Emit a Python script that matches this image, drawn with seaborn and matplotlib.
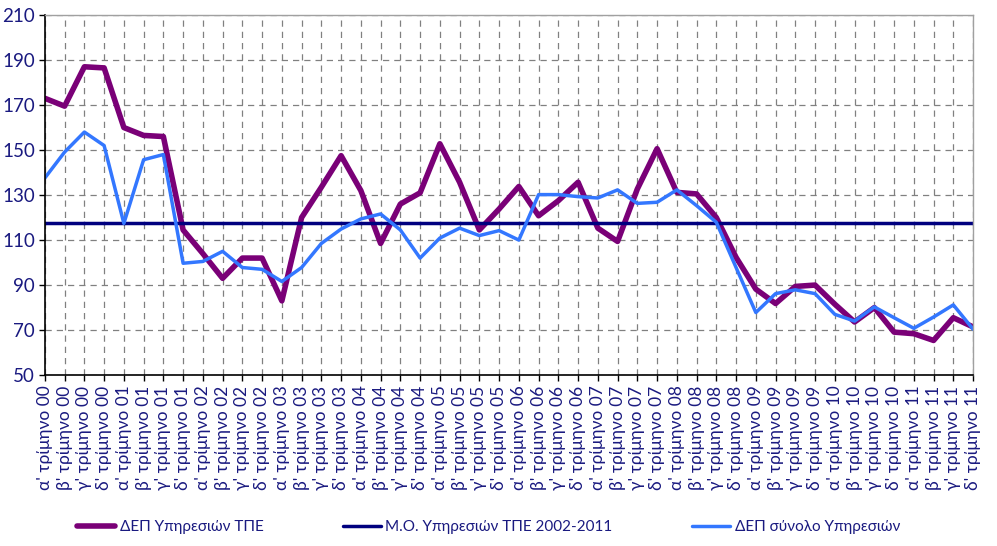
import matplotlib
matplotlib.use("Agg")
import matplotlib.pyplot as plt
import seaborn as sns
import numpy as np
import pandas as pd
from matplotlib.lines import Line2D

quarters = ["α'", "β'", "γ'", "δ'"]
years = ["00", "01", "02", "03", "04", "05", "06", "07", "08", "09", "10", "11"]
labels = [f"{q} τρίμηνο {y}" for y in years for q in quarters]

dep_tpe = [173, 169.5, 187, 186.5, 160, 156.5, 156, 114.5, 104, 93, 102, 102,
           83, 120, 133.5, 147.5, 132, 108.5, 126, 131, 152.8, 135.7, 114.5, 123.8,
           133.8, 120.8, 127.5, 135.7, 115.3, 109.4, 132.7, 150.6, 131.2, 130.5, 120, 102.3,
           88.2, 81.8, 89.4, 90, 81.5, 73.6, 80, 69.1, 68.4, 65.4, 75.5, 71.4]
dep_total = [137.6, 149.1, 158, 152, 117.4, 145.7, 148, 99.7, 100.5, 105, 97.8, 97,
             91.6, 97.8, 108.5, 114.9, 119.4, 121.6, 114.5, 102, 110.9, 115.3, 112, 114.2,
             110, 130.2, 130.2, 129.3, 128.7, 132.3, 126.3, 126.8, 132.3, 125.3, 117.9, 97.8,
             77.8, 86.2, 87.9, 86.2, 77, 74, 80.3, 75.5, 70.8, 75.8, 81.2, 70.4]
avg_value = 117.4
avg_tpe = [avg_value] * len(labels)

names = ["ΔΕΠ Υπηρεσιών ΤΠΕ", "Μ.Ο. Υπηρεσιών ΤΠΕ 2002-2011", "ΔΕΠ σύνολο Υπηρεσιών"]
colors = ["#7A0077", "#00007F", "#3377FF"]
widths = [4, 2.5, 2.5]

sns.set_theme(style="white")
plt.rcParams['font.family'] = ['Lato', 'DejaVu Sans']

fig = plt.figure(figsize=(9.97, 5.46), dpi=100)
ax = fig.add_axes([0.045, 0.313, 0.931, 0.6595])

x = np.arange(len(labels))
df = pd.DataFrame({"x": np.concatenate([x, x, x]),
                   "v": np.concatenate([dep_tpe, avg_tpe, dep_total]),
                   "s": np.repeat(names, len(labels))})

for name, c, w in zip(names, colors, widths):
    sub = df[df["s"] == name]
    kw = {}
    if name == names[1]:
        kw = dict(marker="o", markersize=2.5, markeredgewidth=0)
    sns.lineplot(data=sub, x="x", y="v", ax=ax, color=c, linewidth=w, label=name, **kw)

ax.set_xlim(0, len(labels) - 1)
ax.set_ylim(50, 210)
ax.set_yticks(np.arange(50, 211, 20))
ax.set_xticks(x)
ax.set_xticklabels(labels, rotation=90, fontsize=12.5, color="#1A1A80")
ax.tick_params(axis="y", labelsize=13.5, labelcolor="#1A1A80", pad=3)
ax.tick_params(axis="both", direction="out", length=4, color="black", width=1, bottom=True, left=True)
ax.set_xlabel("")
ax.set_ylabel("")
ax.grid(True, linestyle=(0, (5, 4)), color="#808080", linewidth=0.9)
ax.set_axisbelow(True)
for s in ["top", "right"]:
    ax.spines[s].set_color("#A0A0A0")
    ax.spines[s].set_linewidth(1)
for s in ["left", "bottom"]:
    ax.spines[s].set_color("black")
    ax.spines[s].set_linewidth(1.2)

ax.get_legend().remove()
handles = [Line2D([], [], color=c, linewidth=w) for c, w in zip(colors, widths)]
leg = fig.legend(handles, names, loc="center", bbox_to_anchor=(0.49, 0.035), ncol=3,
                 frameon=False, fontsize=11, columnspacing=5.2, handlelength=2.5, handletextpad=0.3)
for t in leg.get_texts():
    t.set_color("#1A1A80")

fig.savefig("out.png", dpi=100)
